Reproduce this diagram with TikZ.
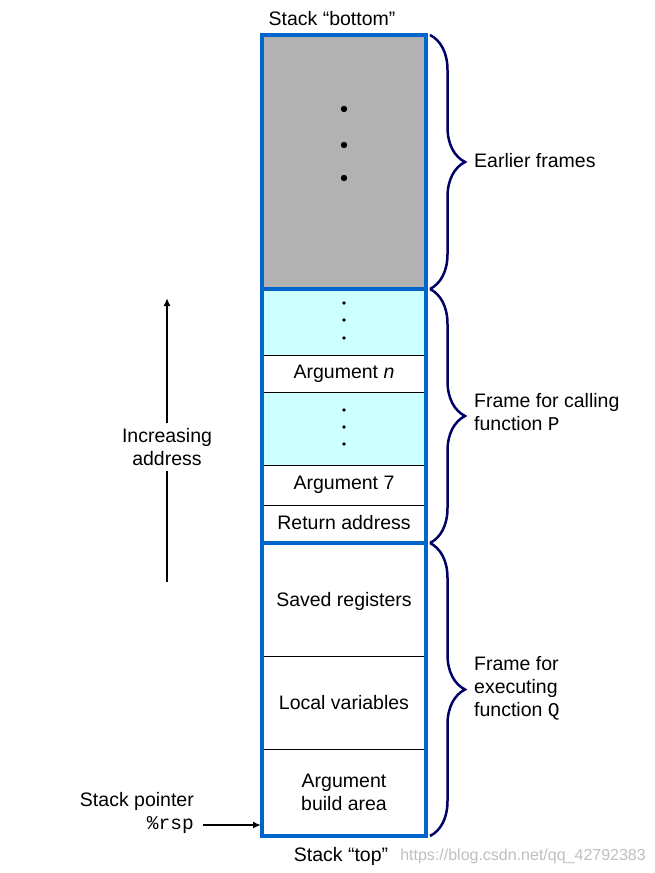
\documentclass[tikz,border=0pt]{standalone}
\usepackage{fontspec}
\setmainfont{Liberation Sans}
\setmonofont{Liberation Mono}
\usetikzlibrary{decorations.pathreplacing,arrows.meta}
\definecolor{stackblue}{HTML}{0066CC}
\definecolor{framegray}{HTML}{B2B2B2}
\definecolor{cellcyan}{HTML}{CCFFFF}
\definecolor{bracenavy}{HTML}{000066}
\begin{document}
\begin{tikzpicture}[x=1pt,y=-1pt,
  font=\fontsize{19.5}{23}\selectfont,
  txt/.style={inner sep=0pt, align=center},
  lbl/.style={inner sep=0pt, align=left, anchor=west, font=\fontsize{19.5}{23}\selectfont},
  sep/.style={draw=black, line width=0.8pt},
  bigsep/.style={draw=stackblue, line width=3.5pt},
  bracestyle/.style={draw=bracenavy, line width=2.5pt, decorate, decoration={brace, amplitude=35pt}},
  bigdot/.style={fill=black},
  arr/.style={draw=black, line width=2pt, -{Latex[length=8pt,width=7pt]}}
]
\useasboundingbox (0,0) rectangle (655,873);
% fills
\fill[framegray] (262,35) rectangle (426,289);
\fill[cellcyan] (262,289) rectangle (426,355);
\fill[white] (262,355) rectangle (426,392);
\fill[cellcyan] (262,392) rectangle (426,465);
\fill[white] (262,465) rectangle (426,836);
% thin separators
\draw[sep] (262,355) -- (426,355);
\draw[sep] (262,392) -- (426,392);
\draw[sep] (262,465) -- (426,465);
\draw[sep] (262,505) -- (426,505);
\draw[sep] (262,656) -- (426,656);
\draw[sep] (262,749) -- (426,749);
% thick separators and outline
\draw[bigsep] (262,289) -- (426,289);
\draw[bigsep] (262,543) -- (426,543);
\draw[draw=stackblue, line width=4pt] (262,35) rectangle (426,836);
% dots
\fill[bigdot] (344,109) circle (3.2);
\fill[bigdot] (344,145) circle (3.2);
\fill[bigdot] (344,178) circle (3.2);
\fill[bigdot] (344,303) circle (1.9);
\fill[bigdot] (344,320) circle (1.9);
\fill[bigdot] (344,338) circle (1.9);
\fill[bigdot] (344,410) circle (1.9);
\fill[bigdot] (344,427) circle (1.9);
\fill[bigdot] (344,444) circle (1.9);
% cell texts
\node[txt] (argn) at (344,374) {Argument \textit{n}};
\node[txt] (arg7) at (344,485) {Argument 7};
\node[txt] (ret) at (344,523) {Return address};
\node[txt] (saved) at (344,601) {Saved registers};
\node[txt] (local) at (344,703) {Local variables};
\node[txt] (build) at (344,792) {Argument\\build area};
% top / bottom labels
\node[txt] (bottom) at (332,19) {Stack “bottom”};
\node[txt] (top) at (341,856) {Stack “top”};
% braces
\coordinate (b1s) at (430,35);
\coordinate (b1e) at (430,289);
\coordinate (b2s) at (430,289);
\coordinate (b2e) at (430,543);
\coordinate (b3s) at (430,543);
\coordinate (b3e) at (430,836);
\draw[bracestyle] (b1s) -- (b1e);
\draw[bracestyle] (b2s) -- (b2e);
\draw[bracestyle] (b3s) -- (b3e);
\node[lbl] (earlier) at (474,161) {Earlier frames};
\node[lbl] (callP) at (474,412) {Frame for calling\\function \texttt{P}};
\node[lbl] (execQ) at (474,688) {Frame for\\executing\\function \texttt{Q}};
% increasing address arrow
\coordinate (arrlow) at (167,582);
\coordinate (arrhigh) at (167,298);
\draw[arr] (arrlow) -- (arrhigh);
\node[txt, fill=white, inner sep=5pt] (inc) at (167,447) {Increasing\\address};
% stack pointer
\node[inner sep=0pt, anchor=east] (sp) at (194,801) {Stack pointer};
\node[inner sep=0pt, anchor=east] (rsp) at (194,825) {\texttt{\%rsp}};
\coordinate (sptarget) at (261,825);
\draw[arr, line width=2.2pt] ([xshift=9pt]rsp.east) -- (sptarget);
% watermark
\node[inner sep=0pt, anchor=east, text=black!25, font=\fontsize{16}{18}\selectfont] (wm) at (646,856) {https://blog.csdn.net/qq\_42792383};
\end{tikzpicture}
\end{document}
